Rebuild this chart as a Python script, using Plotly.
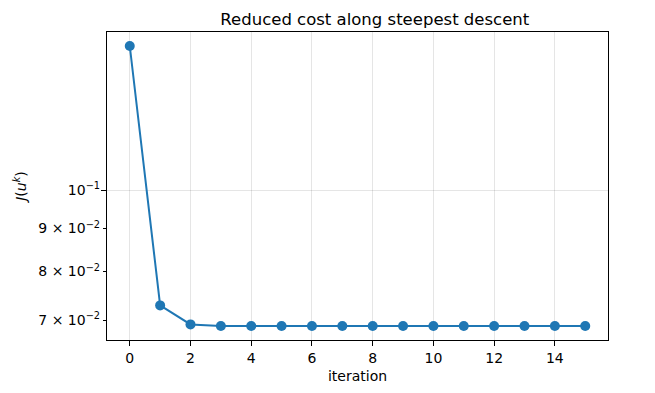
import math
import plotly.graph_objects as go

iterations = list(range(16))
cost = [0.1484, 0.0729, 0.0692, 0.0689, 0.0689, 0.0689, 0.0689, 0.0689,
        0.0689, 0.0689, 0.0689, 0.0689, 0.0689, 0.0689, 0.0689, 0.0689]

y_tickvals = [0.07, 0.08, 0.09, 0.1]
y_ticktext = ["7 × 10<sup>−2</sup>", "8 × 10<sup>−2</sup>", "9 × 10<sup>−2</sup>", "10<sup>−1</sup>"]
x_tickvals = [0, 2, 4, 6, 8, 10, 12, 14]

lo, hi = math.log10(min(cost)), math.log10(max(cost))
pad = 0.05 * (hi - lo)
yrange = [lo - pad, hi + pad]

fig = go.Figure()
fig.add_trace(go.Scatter(
    x=iterations, y=cost, mode="lines+markers",
    line=dict(color="#1f77b4", width=2),
    marker=dict(color="#1f77b4", size=10),
    showlegend=False,
))
# invisible trace on a twin axis that carries the single major grid line at 10^-1
fig.add_trace(go.Scatter(x=[iterations[0]], y=[cost[0]], yaxis="y2",
                         mode="markers", marker=dict(opacity=0), showlegend=False,
                         hoverinfo="skip"))

font = "DejaVu Sans, Arial, sans-serif"
fig.update_layout(
    width=655, height=393,
    margin=dict(l=95, r=55, t=24, b=61),
    paper_bgcolor="white", plot_bgcolor="white",
    font=dict(family=font, size=14, color="black"),
    title=dict(text="Reduced cost along steepest descent", xref="container", x=0.560,
               xanchor="center", yref="container", y=0.972, yanchor="middle",
               font=dict(size=16.5, family=font, color="black")),
    xaxis=dict(
        range=[-0.75, 15.75], tickvals=x_tickvals, ticks="outside", ticklen=5,
        tickcolor="black", showline=True, linecolor="black", linewidth=1.2, mirror=True,
        showgrid=True, gridcolor="rgba(0,0,0,0.1)", gridwidth=1, zeroline=False,
        title=dict(text="iteration", font=dict(size=14), standoff=6),
        tickfont=dict(size=14),
    ),
    yaxis=dict(
        type="log", range=yrange, tickvals=y_tickvals, ticktext=y_ticktext,
        ticks="outside", ticklen=3, tickcolor="black", showline=True,
        linecolor="black", linewidth=1.2, mirror=True, showgrid=False, zeroline=False,
        title=dict(text="<i>J</i>(<i>u</i><sup><i>k</i></sup>)", font=dict(size=14), standoff=8),
        tickfont=dict(size=14),
    ),
    yaxis2=dict(
        type="log", range=yrange, overlaying="y", side="left", tickvals=[0.1],
        showticklabels=False, ticks="outside", ticklen=5, tickcolor="black",
        showgrid=True, gridcolor="rgba(0,0,0,0.1)", gridwidth=1, zeroline=False,
        showline=False,
    ),
)

fig.write_html("out.html")
